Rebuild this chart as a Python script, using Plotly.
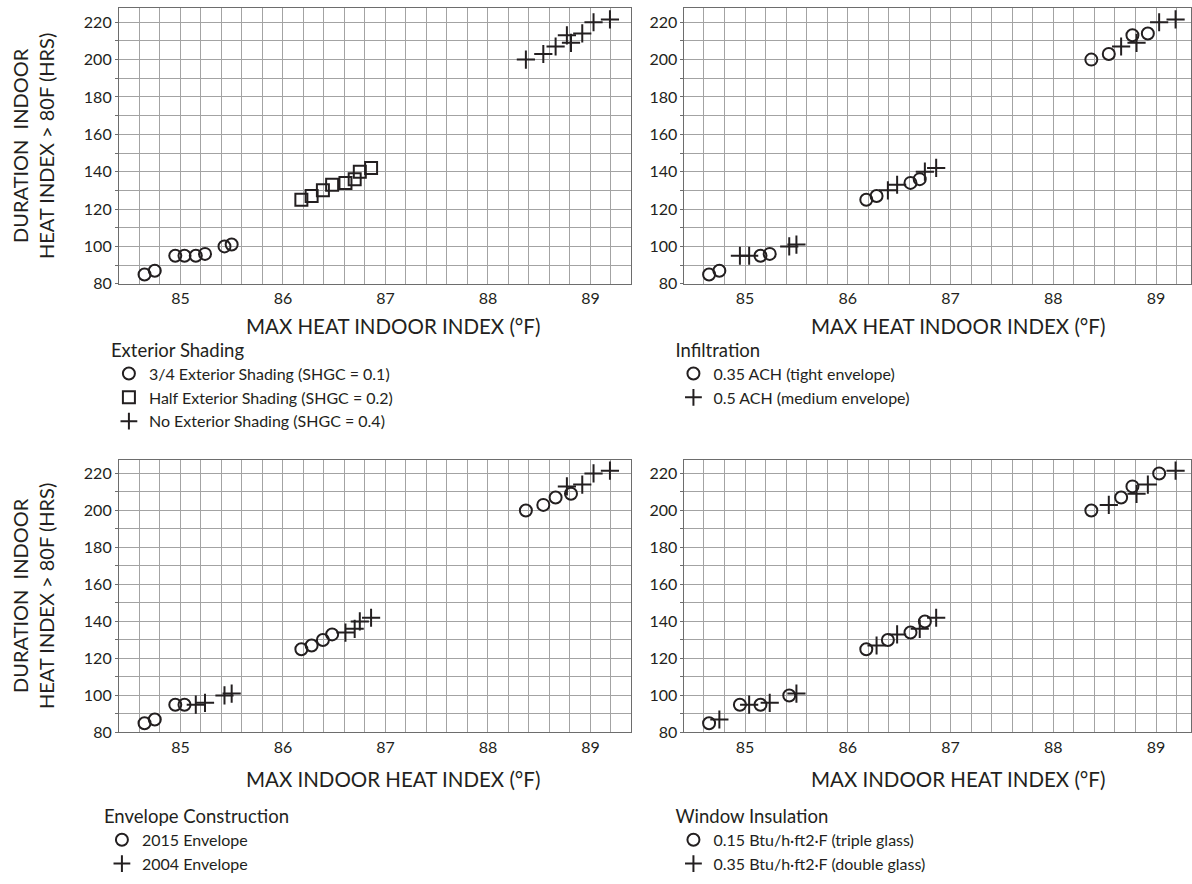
import plotly.graph_objects as go

# ---- data: 24 simulation runs (max indoor heat index °F, hours > 80F heat index)
LOW_X = [84.65, 84.75, 84.95, 85.04, 85.15, 85.24, 85.43, 85.50]
LOW_Y = [85, 87, 95, 95, 95, 96, 100, 101]
MID_X = [86.18, 86.28, 86.39, 86.48, 86.61, 86.70, 86.75, 86.86]
MID_Y = [125, 127, 130, 133, 134, 136, 140, 142]
HIGH_X = [88.37, 88.54, 88.66, 88.77, 88.81, 88.92, 89.03, 89.19]
HIGH_Y = [200, 203, 207, 213, 209, 214, 220, 221.5]

# ---- category of each run for every panel (order: LOW, MID, HIGH)
SHADING = ["3/4"] * 8 + ["half"] * 8 + ["none"] * 8
INFILTRATION = (["tight", "tight", "med", "med", "tight", "tight", "med", "med"] * 2
                + ["tight", "tight", "med", "tight", "med", "tight", "med", "med"])
ENVELOPE = (["2015"] * 4 + ["2004"] * 4) * 2 + ["2015", "2015", "2015", "2004", "2015", "2004", "2004", "2004"]
WINDOW = (["triple", "double"] * 4) * 2 + ["triple", "double", "triple", "triple", "double", "double", "triple", "double"]

ALL_X = LOW_X + MID_X + HIGH_X
ALL_Y = LOW_Y + MID_Y + HIGH_Y

PANELS = [
    dict(cls=SHADING, title="Exterior Shading", legend="legend",
         items=[("3/4", "3/4 Exterior Shading (SHGC = 0.1)", "circle-open"),
                ("half", "Half Exterior Shading (SHGC = 0.2)", "square-open"),
                ("none", "No Exterior Shading (SHGC = 0.4)", "cross-thin-open")]),
    dict(cls=INFILTRATION, title="Infiltration", legend="legend2",
         items=[("tight", "0.35 ACH (tight envelope)", "circle-open"),
                ("med", "0.5 ACH (medium envelope)", "cross-thin-open")]),
    dict(cls=ENVELOPE, title="Envelope Construction", legend="legend3",
         items=[("2015", "2015 Envelope", "circle-open"),
                ("2004", "2004 Envelope", "cross-thin-open")]),
    dict(cls=WINDOW, title="Window Insulation", legend="legend4",
         items=[("triple", "0.15 Btu/h\u00b7ft2\u00b7F (triple glass)", "circle-open"),
                ("double", "0.35 Btu/h\u00b7ft2\u00b7F (double glass)", "cross-thin-open")]),
]

X_TITLES = ["MAX HEAT INDOOR INDEX (\u00b0F)", "MAX HEAT INDOOR INDEX (\u00b0F)",
            "MAX INDOOR HEAT INDEX (\u00b0F)", "MAX INDOOR HEAT INDEX (\u00b0F)"]
Y_TITLE = "DURATION  INDOOR<br>HEAT INDEX > 80F (HRS)"

W, H = 1192, 884
FONT = "Lato, 'Open Sans', sans-serif"
INK = "#231f20"
GRID = "#a3a3a3"
AXIS = "#6d6d6d"

def px(x):
    return x / W

def py(y):
    return 1 - y / H

# panel pixel boxes (left, right, top, bottom)
BOXES = [(119, 632, 8.3, 286.7), (685, 1192, 8.3, 286.7),
         (119, 632, 464.3, 740), (685, 1192, 464.3, 740)]
X_RANGES = [[84.4, 89.4], [84.41, 89.34], [84.4, 89.4], [84.41, 89.34]]
Y_RANGE = [80, 227.5]

fig = go.Figure()
layout = dict(width=W, height=H, margin=dict(l=0, r=0, t=0, b=0),
              paper_bgcolor="white", plot_bgcolor="white",
              font=dict(family=FONT, color=INK, size=16), annotations=[])

MSIZE = {"circle-open": 12, "square-open": 12, "cross-thin-open": 13}

for i, (panel, box) in enumerate(zip(PANELS, BOXES)):
    n = "" if i == 0 else str(i + 1)
    xa, ya = "x" + n, "y" + n
    for key, label, sym in panel["items"]:
        xs = [x for x, c in zip(ALL_X, panel["cls"]) if c == key]
        ys = [y for y, c in zip(ALL_Y, panel["cls"]) if c == key]
        fig.add_trace(go.Scatter(
            x=xs, y=ys, mode="markers", name=label, xaxis=xa, yaxis=ya,
            legend=panel["legend"], legendgroup=panel["legend"] + key,
            marker=dict(symbol=sym, size=MSIZE[sym], color=INK,
                        line=dict(color=INK, width=2))))
    l, r, t, b = box
    layout["xaxis" + n] = dict(
        domain=[px(l), px(r)], range=X_RANGES[i], anchor=ya,
        tickmode="array", tickvals=[85, 86, 87, 88, 89], ticks="",
        showgrid=True, gridcolor=GRID, gridwidth=1,
        minor=dict(dtick=0.2, tick0=85, showgrid=True, gridcolor=GRID, gridwidth=1),
        showline=True, linecolor=AXIS, linewidth=1, mirror=True,
        zeroline=False, tickfont=dict(size=16, color=INK))
    layout["yaxis" + n] = dict(
        domain=[py(b), py(t)], range=Y_RANGE, anchor=xa,
        tickmode="array", tickvals=[80, 100, 120, 140, 160, 180, 200, 220],
        ticks="outside", ticklen=3, tickcolor=AXIS,
        showgrid=True, gridcolor=GRID, gridwidth=1,
        minor=dict(dtick=10, tick0=80, showgrid=True, gridcolor=GRID, gridwidth=1,
                   ticks="outside", ticklen=3, tickcolor=AXIS),
        showline=True, linecolor=AXIS, linewidth=1, mirror=True,
        zeroline=False, tickfont=dict(size=16, color=INK))
    # x-axis title
    cx = 393 if l < 600 else 959
    cy = b + 43 if i < 2 else b + 47
    layout["annotations"].append(dict(
        text=X_TITLES[i], x=px(cx), y=py(cy), xref="paper", yref="paper",
        xanchor="center", yanchor="middle", showarrow=False,
        font=dict(size=20.5, color=INK, family=FONT)))

# y-axis titles (left panels only)
for (l, r, t, b) in (BOXES[0], BOXES[2]):
    layout["annotations"].append(dict(
        text=Y_TITLE, x=px(33), y=py((t + b) / 2), xref="paper", yref="paper",
        xanchor="center", yanchor="middle", textangle=-90, showarrow=False,
        font=dict(size=20, color=INK, family=FONT)))

# legends
LEG_POS = {"legend": (109, 336), "legend2": (674, 336),
           "legend3": (102, 807), "legend4": (674, 807)}
for p in PANELS:
    lx, ly = LEG_POS[p["legend"]]
    layout[p["legend"]] = dict(
        x=px(lx), y=py(ly), xanchor="left", yanchor="top",
        title=dict(text=p["title"], font=dict(size=18.5, color=INK, family=FONT)),
        font=dict(size=16, color=INK, family=FONT),
        bgcolor="rgba(0,0,0,0)", borderwidth=0, tracegroupgap=0,
        itemsizing="constant", itemwidth=30)

fig.update_layout(**layout)
fig.write_html("out.html", config={"displayModeBar": False},
               post_script="document.documentElement.style.overflow='hidden';"
                           "document.body.style.margin='0';document.body.style.overflow='hidden';")
